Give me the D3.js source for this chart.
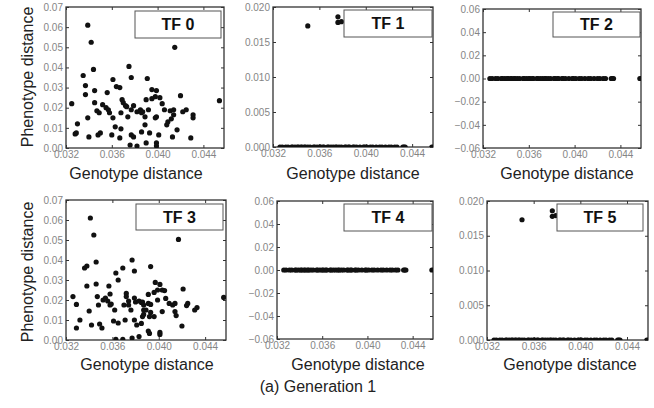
<!DOCTYPE html>
<meta charset="utf-8">
<style>
    body {
        margin: 0;
        background: #fff;
        font-family: Arial, "Liberation Sans", sans-serif;
    }

    .tick text {
        fill: #858585;
        font-size: 10px;
    }

    .tick line {
        stroke: #333;
    }
</style>

<body>
    <script src="https://d3js.org/d3.v7.min.js"></script>
    <script>

        // genotype / phenotype distance pairs
        var tf0Data = [
            [0.0325, 0.022], [0.0330, 0.012], [0.0328, 0.007], [0.0329, 0.0075], [0.0335, 0.036],
            [0.0337, 0.031], [0.0337, 0.0265], [0.0339, 0.061], [0.0342, 0.0525], [0.0339, 0.015],
            [0.0340, 0.0055], [0.0344, 0.039], [0.0345, 0.0285], [0.0345, 0.0225], [0.0347, 0.0185],
            [0.0349, 0.0175], [0.0348, 0.0065], [0.0350, 0.0075], [0.0352, 0.0215], [0.0355, 0.020],
            [0.0356, 0.0275], [0.0357, 0.019], [0.0358, 0.0175], [0.0361, 0.015], [0.0360, 0.0065],
            [0.0361, 0.034], [0.0364, 0.0305], [0.0367, 0.030], [0.0363, 0.0105], [0.0368, 0.0095],
            [0.0367, 0.005], [0.0369, 0.024], [0.0370, 0.0225], [0.0372, 0.021], [0.0368, 0.0175],
            [0.0374, 0.0155], [0.0375, 0.0405], [0.0377, 0.035], [0.0377, 0.0065], [0.0379, 0.0055],
            [0.0376, 0.0015], [0.0382, 0.001], [0.0373, 0.0205], [0.0377, 0.019], [0.0379, 0.021],
            [0.0382, 0.018], [0.0386, 0.0175], [0.0415, 0.050], [0.0391, 0.0345], [0.0395, 0.029],
            [0.0399, 0.0285], [0.0390, 0.024], [0.0395, 0.0245], [0.0398, 0.0255], [0.0402, 0.025],
            [0.0420, 0.026], [0.0454, 0.0235], [0.0404, 0.022], [0.0385, 0.019], [0.0387, 0.018],
            [0.0392, 0.019], [0.0406, 0.019], [0.0411, 0.0185], [0.0414, 0.019], [0.0422, 0.018],
            [0.0425, 0.019], [0.0431, 0.0165], [0.0431, 0.015], [0.0389, 0.0155], [0.0399, 0.0155],
            [0.0398, 0.015], [0.0414, 0.0165], [0.0412, 0.0145], [0.0409, 0.013], [0.0408, 0.0115],
            [0.0389, 0.0115], [0.0386, 0.008], [0.0393, 0.0075], [0.0417, 0.009], [0.0401, 0.0065],
            [0.0413, 0.0055], [0.0429, 0.005], [0.0390, 0.0025], [0.0399, 0.0025], [0.0399, 0.001]
        ];

        // TF 3 panel
        var tf3Data = [
            [0.0326, 0.0217], [0.0329, 0.0178], [0.0332, 0.010], [0.0329, 0.006], [0.0336, 0.036],
            [0.0338, 0.037], [0.0338, 0.027], [0.0340, 0.0145], [0.0341, 0.061], [0.0344, 0.0525],
            [0.0342, 0.0075], [0.0346, 0.039], [0.0346, 0.028], [0.0347, 0.0217], [0.0348, 0.0175],
            [0.0349, 0.008], [0.0351, 0.006], [0.0352, 0.020], [0.0354, 0.021], [0.0356, 0.0195],
            [0.0357, 0.027], [0.0358, 0.023], [0.0359, 0.018], [0.0358, 0.0175], [0.0362, 0.015],
            [0.0361, 0.0095], [0.0363, 0.0335], [0.0365, 0.030], [0.0365, 0.0085], [0.0369, 0.036],
            [0.0371, 0.010], [0.0372, 0.0233], [0.0372, 0.0217], [0.0374, 0.0195], [0.0374, 0.0175],
            [0.0370, 0.0175], [0.0377, 0.040], [0.0379, 0.0345], [0.0376, 0.015], [0.0379, 0.010],
            [0.0381, 0.0075], [0.0363, 0.0003], [0.0369, 0.0003], [0.0377, 0.001], [0.0383, 0.0017],
            [0.0379, 0.021], [0.0380, 0.019], [0.0383, 0.0195], [0.0386, 0.019], [0.0387, 0.015],
            [0.0386, 0.0117], [0.0417, 0.0503], [0.0393, 0.0367], [0.0397, 0.0288], [0.0401, 0.0278],
            [0.0403, 0.025], [0.0399, 0.025], [0.0396, 0.0238], [0.0405, 0.0247], [0.0421, 0.0255],
            [0.0391, 0.0228], [0.0406, 0.0208], [0.0456, 0.0213], [0.0385, 0.0188], [0.0387, 0.0175],
            [0.0391, 0.0183], [0.0393, 0.0178], [0.0399, 0.020], [0.0409, 0.0183], [0.0412, 0.0175],
            [0.0414, 0.0183], [0.0425, 0.0183], [0.0424, 0.0172], [0.0433, 0.0162], [0.0431, 0.015],
            [0.0389, 0.015], [0.0393, 0.0138], [0.0387, 0.0128], [0.0403, 0.0142], [0.0414, 0.0142],
            [0.0415, 0.0122], [0.0392, 0.0117], [0.0396, 0.0117], [0.0420, 0.007], [0.0385, 0.0083],
            [0.0391, 0.0045], [0.0392, 0.0033], [0.0401, 0.0038], [0.0401, 0.0028]
        ];

        // genotype distances of the individuals sitting at phenotype distance 0
        var flatGeno = [
            0.0326, 0.0328, 0.0331, 0.0333, 0.0336, 0.0337, 0.0339, 0.0341, 0.0342, 0.0344,
            0.0345, 0.0347, 0.0348, 0.0350, 0.0352, 0.0355, 0.0356, 0.0358, 0.0360, 0.0361,
            0.0363, 0.0364, 0.0367, 0.0368, 0.0370, 0.0372, 0.0374, 0.0375, 0.0377, 0.0379,
            0.0382, 0.0383, 0.0385, 0.0386, 0.0389, 0.0390, 0.0392, 0.0395, 0.0398, 0.0399,
            0.0401, 0.0404, 0.0406, 0.0409, 0.0412, 0.0414, 0.0417, 0.0420, 0.0422, 0.0425,
            0.0427, 0.0432, 0.0433, 0.0434, 0.0457
        ];

        // the few individuals lifted off zero in TF 1 / TF 5
        var raisedData = [[0.0350, 0.0173], [0.0376, 0.0186], [0.0376, 0.0178], [0.0379, 0.0179]];

        var xTicks = [0.032, 0.036, 0.040, 0.044];
        var yTicksWide = [0, 0.01, 0.02, 0.03, 0.04, 0.05, 0.06, 0.07];
        var yTicksSmall = [0, 0.005, 0.010, 0.015, 0.020];
        var yTicksSym = [-0.06, -0.04, -0.02, 0, 0.02, 0.04, 0.06];
        var panelNames = ["TF 0", "TF 1", "TF 2", "TF 3", "TF 4", "TF 5"];

        var zeroPoints = flatGeno.map(function (g) { return [g, 0]; });

        var panelData = [tf0Data, zeroPoints.concat(raisedData), zeroPoints,
            tf3Data, zeroPoints, zeroPoints.concat(raisedData)];
        var panelTicks = [yTicksWide, yTicksSmall, yTicksSym, yTicksWide, yTicksSym, yTicksSmall];

        // frame and legend placement of each panel
        var layout = [
            { x0: 66, x1: 224, y0: 7, y1: 148, lg: [135, 11, 221, 38], gx: 136, gy: 179, py: 77 },
            { x0: 273, x1: 433, y0: 7, y1: 147, lg: [344, 10, 432, 37], gx: 353, gy: 179 },
            { x0: 483, x1: 641, y0: 9, y1: 148, lg: [553, 12, 640, 37], gx: 567, gy: 179 },
            { x0: 66, x1: 226, y0: 200, y1: 340, lg: [136, 204, 223, 230], gx: 147, gy: 370, py: 272 },
            { x0: 277, x1: 433, y0: 201, y1: 339, lg: [344, 204, 432, 231], gx: 358, gy: 370 },
            { x0: 487, x1: 648, y0: 201, y1: 340, lg: [557, 204, 643, 231], gx: 570, gy: 370 }
        ];

        var svg = d3.select("body")
            .append("svg")
            .attr("width", 654)
            .attr("height", 408);

        panelNames.forEach(function (name, i) {
            var L = layout[i];
            var w = L.x1 - L.x0, h = L.y1 - L.y0;
            var ticks = panelTicks[i];
            var yFmt = ticks === yTicksSmall ? d3.format(".3f") : d3.format(".2f");

            var x = d3.scaleLinear().domain([0.032, 0.0458]).range([0, w]);
            var y = d3.scaleLinear().domain(d3.extent(ticks)).range([h, 0]);

            var g = svg.append("g")
                .attr("transform", "translate(" + L.x0 + "," + L.y0 + ")");

            g.append("clipPath").attr("id", "clip" + i)
                .append("rect").attr("width", w).attr("height", h);

            // inward ticks on all four sides
            g.append("g").attr("transform", "translate(0," + h + ")")
                .call(d3.axisBottom(x).tickValues(xTicks).tickSize(-3).tickPadding(3).tickFormat(d3.format(".3f")));
            g.append("g")
                .call(d3.axisTop(x).tickValues(xTicks).tickSize(-3).tickFormat(""));
            g.append("g")
                .call(d3.axisLeft(y).tickValues(ticks).tickSize(-3).tickPadding(3).tickFormat(yFmt));
            g.append("g").attr("transform", "translate(" + w + ",0)")
                .call(d3.axisRight(y).tickValues(ticks).tickSize(-3).tickFormat(""));
            g.selectAll(".domain").remove();

            g.append("rect")
                .attr("width", w).attr("height", h)
                .attr("fill", "none")
                .attr("stroke", "#333")
                .attr("stroke-width", 1.3);

            g.append("g").attr("clip-path", "url(#clip" + i + ")")
                .selectAll("circle")
                .data(panelData[i])
                .enter().append("circle")
                .attr("cx", function (d) { return x(d[0]); })
                .attr("cy", function (d) { return y(d[1]); })
                .attr("r", 2.6)
                .attr("fill", "#111");

            // legend box
            svg.append("rect")
                .attr("x", L.lg[0]).attr("y", L.lg[1])
                .attr("width", L.lg[2] - L.lg[0]).attr("height", L.lg[3] - L.lg[1])
                .attr("fill", "#fff")
                .attr("stroke", "#555");
            svg.append("text")
                .attr("x", (L.lg[0] + L.lg[2]) / 2)
                .attr("y", (L.lg[1] + L.lg[3]) / 2 + 5.5)
                .attr("text-anchor", "middle")
                .attr("font-size", "16px")
                .attr("font-weight", "bold")
                .attr("fill", "#111")
                .text(name);

            svg.append("text")
                .attr("x", L.gx).attr("y", L.gy)
                .attr("text-anchor", "middle")
                .attr("font-size", "16px")
                .attr("fill", "#222")
                .text("Genotype distance");

            if (L.py) {
                svg.append("text")
                    .attr("transform", "translate(33," + L.py + ") rotate(-90)")
                    .attr("text-anchor", "middle")
                    .attr("font-size", "16px")
                    .attr("fill", "#222")
                    .text("Phenotype distance");
            }
        });

        svg.append("text")
            .attr("x", 318).attr("y", 392)
            .attr("text-anchor", "middle")
            .attr("font-size", "16px")
            .attr("fill", "#222")
            .text("(a) Generation 1");

    </script>
</body>
